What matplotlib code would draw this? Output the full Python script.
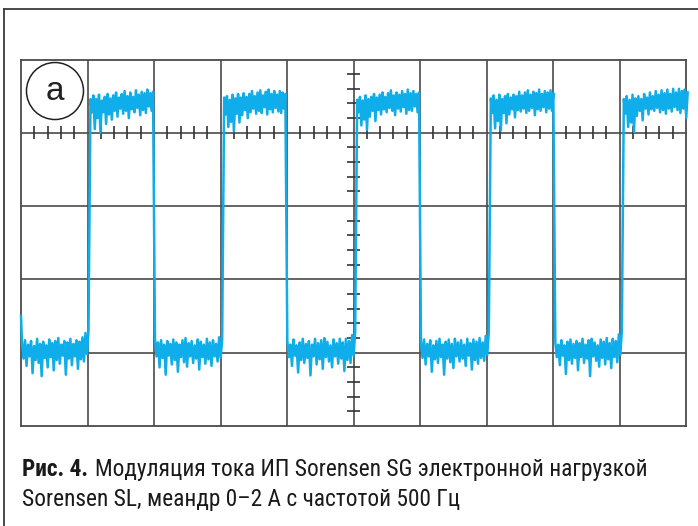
import numpy as np
import matplotlib
matplotlib.use("Agg")
import matplotlib.pyplot as plt
from matplotlib.patches import Ellipse
from matplotlib.lines import Line2D
from matplotlib import font_manager

# ---------------- data (divisions) ----------------
start_value = 1.5
edges = [1.03, 2.0, 3.04, 3.99, 5.04, 6.0, 7.05, 8.02, 9.05]
t_start, t_end = 0.0, 10.04

low1 = [1.13, 0.92, 1.17, 0.82, 1.11, 0.95, 1.16, 0.72, 1.09, 0.90, 1.19, 0.86,
        1.12, 0.68, 1.15, 0.93, 1.10, 0.80, 1.18, 0.94, 1.13, 0.76, 1.16, 0.90,
        1.20, 0.85, 1.11, 0.96, 1.16, 0.70, 1.14, 0.92, 1.19, 0.83, 1.12, 0.95,
        1.17, 0.78, 1.15, 0.91, 1.21, 0.88, 1.27, 0.98, 1.30]
high1 = [4.46, 4.28, 4.51, 4.05, 4.46, 4.20, 4.52, 4.00, 4.44, 4.28, 4.49, 4.12,
         4.53, 4.25, 4.47, 4.18, 4.51, 4.30, 4.55, 4.22, 4.48, 4.33, 4.53, 4.26,
         4.57, 4.30, 4.50, 4.20, 4.55, 4.32, 4.49, 4.28, 4.58, 4.34, 4.52, 4.24,
         4.56, 4.31, 4.54, 4.27, 4.59, 4.36, 4.54, 4.30, 4.56]
low2 = [1.19, 0.95, 1.14, 0.80, 1.17, 0.93, 1.11, 0.70, 1.16, 0.96, 1.12, 0.84,
        1.18, 0.90, 1.14, 0.74, 1.11, 0.94, 1.17, 0.87, 1.20, 0.81, 1.13, 0.95,
        1.16, 0.86, 1.10, 0.92, 1.18, 0.77, 1.15, 0.94, 1.11, 0.85, 1.19, 0.91,
        1.14, 0.82, 1.17, 0.95, 1.12, 0.88, 1.21, 0.93, 1.18]
high2 = [4.48, 4.25, 4.50, 4.08, 4.45, 4.15, 4.52, 4.02, 4.47, 4.26, 4.53, 4.14,
         4.48, 4.24, 4.54, 4.31, 4.49, 4.20, 4.53, 4.28, 4.57, 4.33, 4.50, 4.26,
         4.55, 4.30, 4.58, 4.27, 4.51, 4.35, 4.56, 4.25, 4.59, 4.32, 4.53, 4.28,
         4.57, 4.34, 4.52, 4.29, 4.57, 4.27, 4.55, 4.33, 4.53]
low3 = [1.16, 0.94, 1.11, 0.82, 1.18, 0.96, 1.10, 0.73, 1.14, 0.90, 1.19, 0.86,
        1.12, 0.93, 1.16, 0.69, 1.11, 0.95, 1.19, 0.84, 1.13, 0.91, 1.17, 0.78,
        1.20, 0.94, 1.15, 0.88, 1.10, 0.80, 1.18, 0.95, 1.13, 0.85, 1.19, 0.92,
        1.14, 0.75, 1.19, 0.90, 1.16, 0.86, 1.24, 0.96, 1.28]
high3 = [4.45, 4.28, 4.49, 4.10, 4.44, 4.18, 4.51, 4.04, 4.46, 4.22, 4.49, 4.30,
         4.53, 4.16, 4.48, 4.31, 4.52, 4.25, 4.55, 4.32, 4.49, 4.28, 4.54, 4.34,
         4.58, 4.30, 4.51, 4.24, 4.55, 4.33, 4.52, 4.29, 4.57, 4.35, 4.53, 4.26,
         4.59, 4.31, 4.54, 4.30, 4.57, 4.36, 4.53, 4.28, 4.55]
low4 = [1.15, 0.93, 1.18, 0.84, 1.12, 0.95, 1.17, 0.74, 1.10, 0.91, 1.16, 0.86,
        1.19, 0.94, 1.11, 0.70, 1.15, 0.92, 1.18, 0.87, 1.12, 0.79, 1.19, 0.95,
        1.14, 0.88, 1.17, 0.92, 1.11, 0.82, 1.19, 0.96, 1.13, 0.77, 1.18, 0.90,
        1.15, 0.85, 1.20, 0.93, 1.14, 0.89, 1.23, 0.97, 1.29]
high4 = [4.47, 4.27, 4.51, 4.06, 4.45, 4.16, 4.52, 4.03, 4.46, 4.27, 4.50, 4.13,
         4.53, 4.25, 4.48, 4.32, 4.52, 4.21, 4.50, 4.31, 4.56, 4.29, 4.51, 4.33,
         4.55, 4.27, 4.58, 4.30, 4.52, 4.34, 4.56, 4.24, 4.54, 4.32, 4.59, 4.30,
         4.53, 4.35, 4.57, 4.28, 4.55, 4.33, 4.58, 4.30, 4.54]
low5 = [1.14, 0.94, 1.11, 0.83, 1.17, 0.96, 1.10, 0.71, 1.15, 0.90, 1.18, 0.85,
        1.12, 0.93, 1.16, 0.76, 1.13, 0.94, 1.19, 0.86, 1.11, 0.92, 1.17, 0.68,
        1.19, 0.95, 1.14, 0.89, 1.10, 0.81, 1.18, 0.93, 1.15, 0.84, 1.20, 0.91,
        1.13, 0.79, 1.19, 0.94, 1.16, 0.87, 1.25, 0.97, 1.30]
high5 = [4.46, 4.26, 4.50, 4.08, 4.45, 4.14, 4.52, 4.01, 4.47, 4.23, 4.50, 4.30,
         4.46, 4.17, 4.53, 4.33, 4.48, 4.25, 4.55, 4.32, 4.50, 4.30, 4.57, 4.34,
         4.52, 4.28, 4.58, 4.31, 4.54, 4.26, 4.59, 4.33, 4.53, 4.29, 4.60, 4.35,
         4.55, 4.31, 4.60, 4.27, 4.57, 4.33, 4.59, 4.20, 4.55]

plateaus = [low1, high1, low2, high2, low3, high3, low4, high4, low5, high5]

label_letter = "a"
caption_bold = "Рис. 4."
caption_line1 = "Модуляция тока ИП Sorensen SG электронной нагрузкой"
caption_line2 = "Sorensen SL, меандр 0–2 А с частотой 500 Гц"

# ---------------- build trace ----------------
bounds = [t_start] + edges + [t_end]
t = [t_start]
v = [start_value]
for i, vals in enumerate(plateaus):
    a, b = bounds[i], bounds[i + 1]
    ts = np.linspace(a + 0.015, b - 0.015, len(vals))
    t.extend(ts)
    v.extend(vals)

# ---------------- caption font (needs Cyrillic) ----------------
names = {f.name for f in font_manager.fontManager.ttflist}
stretch = "normal"
if "Roboto Condensed" in names:
    cap_family = ["Roboto Condensed", "DejaVu Sans"]
elif "Roboto" in names:
    cap_family = ["Roboto", "DejaVu Sans"]
    if any(f.name == "Roboto" and str(f.stretch) in ("condensed", "semi-condensed")
           for f in font_manager.fontManager.ttflist):
        stretch = "condensed"
else:
    cap_family = ["DejaVu Sans"]

# ---------------- figure ----------------
W, H = 698, 526
fig = plt.figure(figsize=(W / 100, H / 100), dpi=100)
fig.patch.set_facecolor("white")

gc = "#4a4a4a"
fig.add_artist(Line2D([3.5 / W, 1.0], [1 - 8.5 / H, 1 - 8.5 / H],
                      transform=fig.transFigure, color="#3a3a3a", lw=1.3))
fig.add_artist(Line2D([3.5 / W, 3.5 / W], [0.0, 1 - 8.5 / H],
                      transform=fig.transFigure, color="#3a3a3a", lw=1.3))

left, right, top, bottom = 21, 686, 59.5, 426
ax = fig.add_axes([left / W, 1 - bottom / H, (right - left) / W, (bottom - top) / H])
ax.set_xlim(0, 10)
ax.set_ylim(0, 5)
ax.set_xticks([])
ax.set_yticks([])
for s in ax.spines.values():
    s.set_color(gc)
    s.set_linewidth(1.3)

for x in range(1, 10):
    ax.axvline(x, color=gc, lw=1.2, zorder=1)
for y in range(1, 5):
    ax.axhline(y, color=gc, lw=1.2, zorder=1)

hx = 0.09
for k in range(1, 50):
    if k % 5:
        ax.plot([k / 5, k / 5], [4 - hx, 4 + hx], color="#333333", lw=1.2, zorder=1,
                solid_capstyle="butt")
hy = 0.105
for k in range(1, 25):
    if k % 5:
        ax.plot([5 - hy, 5 + hy], [k / 5, k / 5], color="#333333", lw=1.2, zorder=1,
                solid_capstyle="butt")

ax.plot(t, v, color="#0FADE9", lw=1.8, zorder=3, clip_on=False)

ax.add_patch(Ellipse((0.511, 4.57), 57 / 66.5, 57 / 73.3, fill=False,
                     edgecolor="#222222", lw=1.1, zorder=4))
ax.text(0.511, 4.57, label_letter, ha="center", va="center", fontsize=24,
        family=["Liberation Sans", "DejaVu Sans"], color="#222222", zorder=5)

# ---------------- caption ----------------
fs = 14
y1 = 1 - 476 / H
y2 = 1 - 506 / H
target_right = 648

def make_caption(size):
    tb = fig.text(22 / W, y1, caption_bold, fontsize=size, fontweight="heavy",
                  family=cap_family, fontstretch=stretch, color="#1a1a1a",
                  va="baseline", ha="left")
    fig.canvas.draw()
    r = fig.canvas.get_renderer()
    bb = tb.get_window_extent(renderer=r)
    t1 = fig.text((bb.x1 + 0.4 * size) / W, y1, caption_line1, fontsize=size,
                  family=cap_family, fontstretch=stretch, color="#1a1a1a",
                  va="baseline", ha="left")
    t2 = fig.text(22 / W, y2, caption_line2, fontsize=size,
                  family=cap_family, fontstretch=stretch, color="#1a1a1a",
                  va="baseline", ha="left")
    fig.canvas.draw()
    return tb, t1, t2, t1.get_window_extent(renderer=r).x1

tb, t1, t2, xr = make_caption(fs)
new_fs = min(18.0, fs * (target_right - 22) / (xr - 22))
for a_ in (tb, t1, t2):
    a_.remove()
make_caption(new_fs)

fig.savefig("out.png", dpi=100, facecolor="white")
